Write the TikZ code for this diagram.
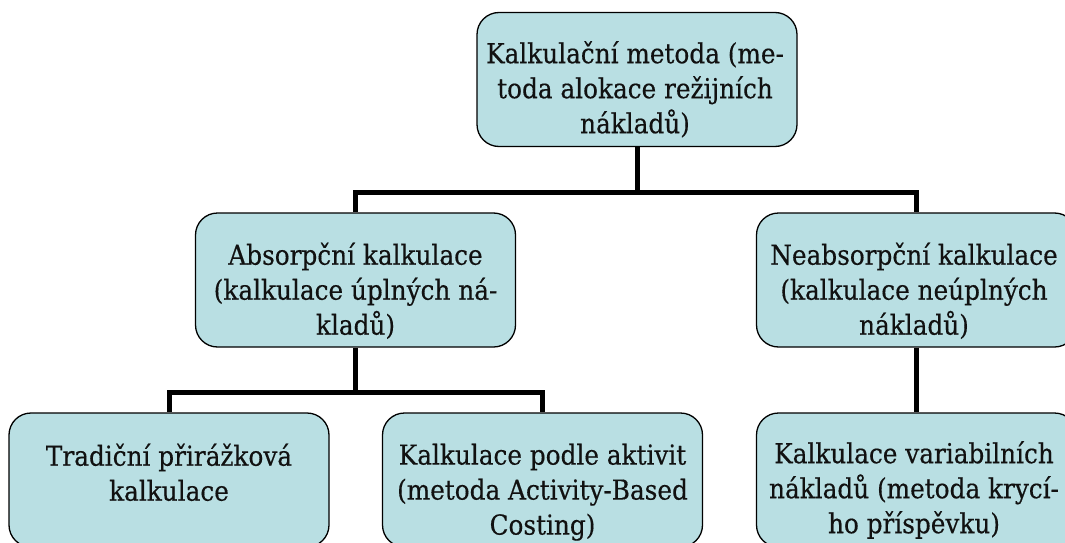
\documentclass[tikz,border=0pt]{standalone}
\usepackage{fontspec}
\newfontfamily\boxfont{DejaVu Serif Condensed}[BoldFont={DejaVu Serif Condensed},BoldFeatures={FakeBold=0.4}]
\definecolor{boxfill}{HTML}{B9DFE3}
\definecolor{ink}{HTML}{111111}
\begin{document}
\begin{tikzpicture}[x=1pt,y=-1pt,
  box/.style={draw=black, line width=1.3pt, fill=boxfill, rounded corners=22pt,
    minimum width=320pt, minimum height=134pt, inner sep=0pt},
  txt/.style={anchor=north, align=center, inner sep=0pt, text=ink,
    font=\boxfont\bfseries\fontsize{27.5}{35}\selectfont, execute at begin node=\strut},
  conn/.style={draw=black, line width=5pt, line join=miter}]
\useasboundingbox (0,0) rectangle (1065,543);
\clip (0,0) rectangle (1065,543);

% boxes
\node[box] (top) at (637,79.5) {};
\node[box] (ml) at (355.5,280) {};
\node[box] (mr) at (916.5,280) {};
\node[box] (bl) at (169,480) {};
\node[box] (bm) at (542.5,480) {};
\node[box] (br) at (916.5,480) {};

% texts (first baseline 54pt below the box top)
\node[txt] (top-t) at (635,41) {Kalkulační metoda (me-\\toda alokace režijních\\nákladů)};
\node[txt] (ml-t) at (355.5,242.5) {Absorpční kalkulace\\(kalkulace úplných ná-\\kladů)};
\node[txt] (mr-t) at (914,242.5) {Neabsorpční kalkulace\\(kalkulace neúplných\\nákladů)};
\node[txt] (bl-t) at (169,443.5) {Tradiční přirážková\\kalkulace};
\node[txt] (bm-t) at (542.5,443.5) {Kalkulace podle aktivit\\(metoda Activity-Based\\Costing)};
\node[txt] (br-t) at (914,441) {Kalkulace variabilních\\nákladů (metoda krycí-\\ho příspěvku)};

% connectors
\coordinate (bus1) at (0,192);
\coordinate (bus2) at (0,392);
\draw[conn] (top.south) -- (top.south |- bus1) -| (ml.north);
\draw[conn] (top.south |- bus1) -| (mr.north);
\draw[conn] (ml.south) -- (ml.south |- bus2) -| (bl.north);
\draw[conn] (ml.south |- bus2) -| (bm.north);
\draw[conn] (mr.south) -- (br.north);
\end{tikzpicture}
\end{document}
